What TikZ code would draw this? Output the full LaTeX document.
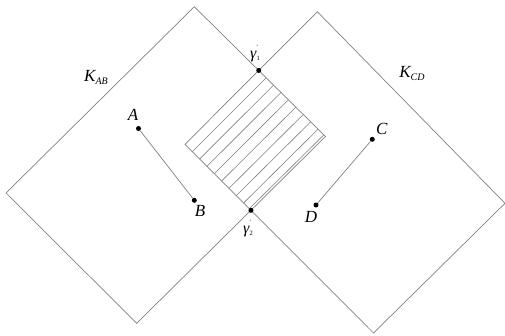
\documentclass[tikz,border=0pt]{standalone}
\usepackage{fontspec}
\setmainfont{Liberation Serif}
\usetikzlibrary{calc}
\newcommand{\gsub}[1]{\fontsize{6.5}{6.5}\selectfont\upshape #1}
\begin{document}
\begin{tikzpicture}[x=1pt,y=-1pt,
  edge/.style={draw=black!50, line width=0.7pt},
  hatchline/.style={draw=black!50, line width=0.6pt},
  dotpt/.style={circle, fill=black, inner sep=0pt, minimum size=5pt},
  lbl/.style={font=\fontsize{17}{20}\selectfont\itshape, inner sep=0pt},
  glbl/.style={font=\fontsize{16}{18}\selectfont\itshape, inner sep=0pt}]
\useasboundingbox (0,0) rectangle (505,335);
% left region K_AB
\coordinate (T1) at (194.3,6.7);
\coordinate (R1) at (325.5,136.5);
\coordinate (B1) at (136.7,323.3);
\coordinate (L1) at (6,193);
% right region K_CD
\coordinate (T2) at (317.3,11.7);
\coordinate (L2) at (185,144.3);
\coordinate (B2) at (373.5,333);
\coordinate (R2) at (505,203.3);
\draw[edge] (T1) -- (R1) -- (B1) -- (L1) -- cycle;
\draw[edge] (T2) -- (R2) -- (B2) -- (L2) -- cycle;
\path (intersection of T1--R1 and L2--T2) coordinate (G1);
\path (intersection of R1--B1 and L2--B2) coordinate (G2);
% hatching
\foreach \k in {1,...,8} {
  \draw[hatchline] ($(L2)!\k/9!(G2)$) -- ($(G1)!\k/9!(R1)$);
}
\draw[hatchline] ($(L2)!0.975!(G2)$) -- ($(G1)!0.975!(R1)$);
% points
\node[dotpt] (A) at (138.5,128.5) {};
\node[dotpt] (B) at (194.3,200.3) {};
\node[dotpt] (C) at (372.3,139.3) {};
\node[dotpt] (D) at (316,205) {};
\node[dotpt] (g1) at (G1) {};
\node[dotpt] (g2) at (G2) {};
\draw[edge] (A) -- (B);
\draw[edge] (C) -- (D);
% labels
\node[lbl] (lA) at (133,115) {A};
\node[lbl] (lB) at (200,211) {B};
\node[lbl] (lC) at (381.7,129) {C};
\node[lbl] (lD) at (311,216.7) {D};
\node[lbl] (lKab) at (96,77) {K\raisebox{-3pt}{\fontsize{10}{10}\selectfont AB}};
\node[lbl] (lKcd) at (412,73) {K\raisebox{-3pt}{\fontsize{10}{10}\selectfont CD}};
\node[glbl] (lg1) at (255,54) {γ\rlap{\raisebox{9pt}{\gsub{′}}}\raisebox{-2pt}{\gsub{1}}};
\node[glbl] (lg2) at (248,228.5) {γ\rlap{\raisebox{9pt}{\gsub{′}}}\raisebox{-2pt}{\gsub{2}}};
\end{tikzpicture}
\end{document}
